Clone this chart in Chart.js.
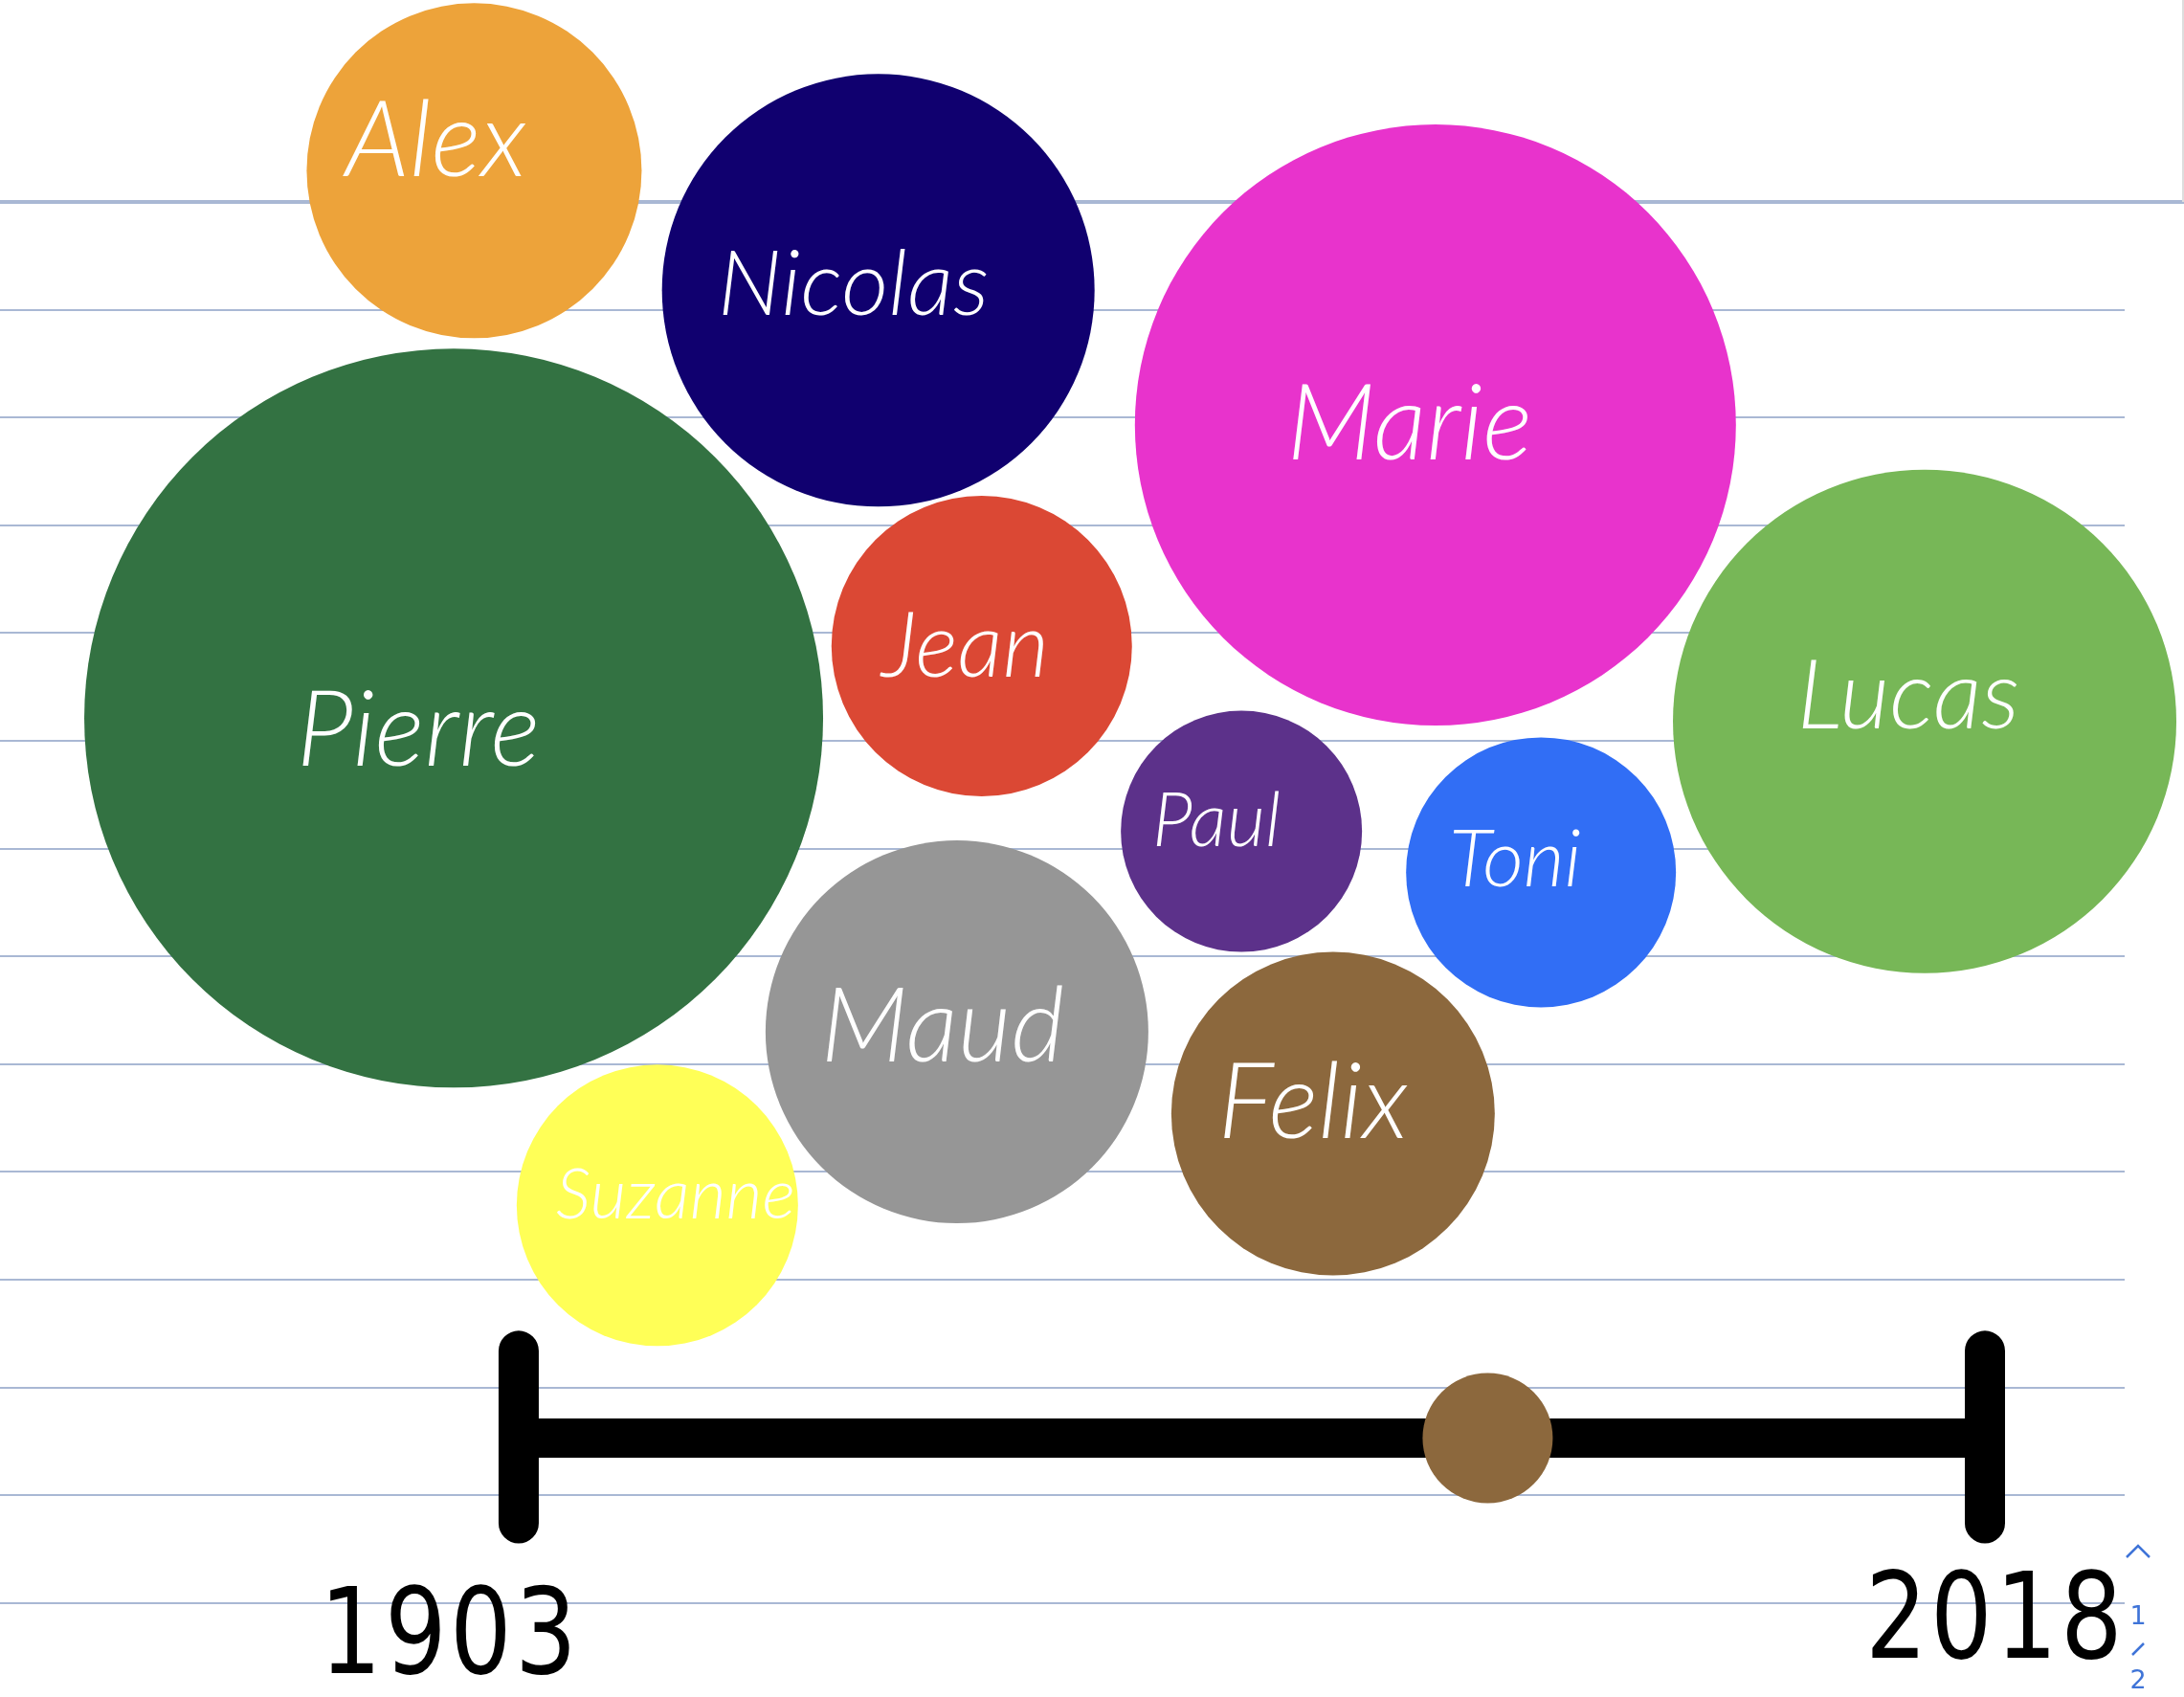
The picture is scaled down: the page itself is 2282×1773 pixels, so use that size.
<!DOCTYPE html>
<html>
<head>
<meta charset="utf-8">
<script src="https://cdn.jsdelivr.net/npm/chart.js@4"></script>
<style>
html,body{margin:0;padding:0;background:#fff;}
#wrap{width:2282px;height:1773px;position:relative;}
</style>
</head>
<body>
<div id="wrap"><canvas id="c"></canvas></div>
<script>
// ---- data (positions in "notebook line" units, radius in px as Chart.js bubble r) ----
const names   = ['Alex','Nicolas','Marie','Pierre','Jean','Lucas','Paul','Toni','Maud','Felix','Suzanne'];
const posX    = [4.40, 8.15, 13.32, 4.21, 9.11, 17.86, 11.52, 14.30, 8.88, 12.37, 6.10];
const posY    = [-0.29, 0.82, 2.07, 4.79, 4.12, 4.82, 5.84, 6.22, 7.70, 8.46, 9.31];
const radius  = [175, 226, 314, 386, 157, 263, 126, 141, 200, 169, 147];
const colors  = ['#EDA33A','#10006F','#E833CC','#337242','#DB4834','#77B757','#5C318A','#316EF5','#969696','#8C683D','#FFFF57'];
const years   = [1903, 2018];
const currentYear = 1979;
const timelineRow = 11.47;
const capRows = [10.66, 12.26];

// ---- style (not data) ----
const labelWidths = [201, 284, 284, 291, 175, 233, 134, 138, 255, 199, 250];
const labelShift  = [[-40,-30],[-26,-5],[-27,0],[-37,14],[-17,2],[-17,-26],[-26,-10],[-27,-12],[-15,-4],[-21,-10],[19,-10]];
const gridColor = '#A9B8D4';

const bubbleData = names.map((n, i) => ({x: posX[i], y: posY[i], r: radius[i]}));

const extrasPlugin = {
  id: 'extras',
  beforeDatasetsDraw(chart) {
    const ctx = chart.ctx, ya = chart.scales.y, ca = chart.chartArea;
    const y0 = ya.getPixelForValue(0);
    ctx.save();
    ctx.strokeStyle = gridColor;
    ctx.lineWidth = 4;
    ctx.beginPath();
    ctx.moveTo(ca.right, y0);
    ctx.lineTo(chart.width, y0);
    ctx.stroke();
    ctx.strokeStyle = '#DDDDDD';
    ctx.lineWidth = 2;
    ctx.beginPath();
    ctx.moveTo(chart.width - 1, 0);
    ctx.lineTo(chart.width - 1, y0);
    ctx.stroke();
    ctx.restore();
  },
  afterDatasetsDraw(chart) {
    const ctx = chart.ctx;
    const meta = chart.getDatasetMeta(0);
    ctx.save();
    ctx.fillStyle = '#FFFFFF';
    ctx.textAlign = 'center';
    ctx.textBaseline = 'middle';
    meta.data.forEach((el, i) => {
      const base = 100;
      ctx.font = 'italic 300 ' + base + 'px Lato, "Open Sans", sans-serif';
      const w = ctx.measureText(names[i]).width;
      const size = Math.min(base * labelWidths[i] / w, 110);
      ctx.font = 'italic 300 ' + size.toFixed(1) + 'px Lato, "Open Sans", sans-serif';
      ctx.fillText(names[i], el.x + labelShift[i][0], el.y + labelShift[i][1]);
    });
    ctx.restore();

    const ys = chart.scales.timeX, ya = chart.scales.y;
    const by = ya.getPixelForValue(timelineRow);
    ctx.save();
    ctx.fillStyle = '#000';
    ctx.textAlign = 'center';
    ctx.textBaseline = 'middle';
    ctx.font = '124px "DejaVu Sans", sans-serif';
    const offs = [[-72, 213], [11, 197]];
    years.forEach((yr, i) => {
      const px = ys.getPixelForValue(yr) + offs[i][0];
      const py = by + offs[i][1];
      ctx.save();
      ctx.translate(px, py);
      ctx.scale(0.82, 1);
      ctx.letterSpacing = '4px';
      ctx.fillText(String(yr), 0, 0);
      ctx.restore();
    });
    ctx.restore();

    const rx = chart.width - 48;
    ctx.save();
    ctx.strokeStyle = '#3F74D8';
    ctx.fillStyle = '#3F74D8';
    ctx.lineWidth = 2.5;
    ctx.beginPath();
    ctx.moveTo(rx - 12, 1627); ctx.lineTo(rx, 1615); ctx.lineTo(rx + 12, 1627);
    ctx.stroke();
    ctx.beginPath();
    ctx.moveTo(rx - 6, 1729); ctx.lineTo(rx + 6, 1717);
    ctx.stroke();
    ctx.font = '27px "DejaVu Sans", sans-serif';
    ctx.textAlign = 'center';
    ctx.textBaseline = 'middle';
    ctx.fillText('1', rx, 1690);
    ctx.fillText('2', rx, 1757);
    ctx.restore();
  }
};

new Chart(document.getElementById('c'), {
  data: {
    datasets: [
      {
        type: 'bubble',
        label: 'names',
        xAxisID: 'x',
        yAxisID: 'y',
        data: bubbleData,
        backgroundColor: colors,
        borderWidth: 0,
        hoverBorderWidth: 0,
        clip: false,
        order: 2
      },
      {
        type: 'bubble',
        label: 'current',
        xAxisID: 'timeX',
        yAxisID: 'y',
        data: [{x: currentYear, y: timelineRow, r: 68}],
        backgroundColor: colors[9],
        borderWidth: 0,
        clip: false,
        order: 1
      },
      {
        type: 'line',
        label: 'capStart',
        xAxisID: 'timeX',
        yAxisID: 'y',
        data: [{x: years[0], y: capRows[0]}, {x: years[0], y: capRows[1]}],
        borderColor: '#000',
        borderWidth: 42,
        borderCapStyle: 'round',
        pointRadius: 0,
        fill: false,
        clip: false,
        order: 3
      },
      {
        type: 'line',
        label: 'capEnd',
        xAxisID: 'timeX',
        yAxisID: 'y',
        data: [{x: years[1], y: capRows[0]}, {x: years[1], y: capRows[1]}],
        borderColor: '#000',
        borderWidth: 42,
        borderCapStyle: 'round',
        pointRadius: 0,
        fill: false,
        clip: false,
        order: 3
      },
      {
        type: 'line',
        label: 'bar',
        xAxisID: 'timeX',
        yAxisID: 'y',
        data: [{x: years[0], y: timelineRow}, {x: years[1], y: timelineRow}],
        borderColor: '#000',
        borderWidth: 41,
        borderCapStyle: 'butt',
        pointRadius: 0,
        fill: false,
        clip: false,
        order: 4
      }
    ]
  },
  options: {
    responsive: true,
    maintainAspectRatio: false,
    animation: false,
    events: [],
    layout: {autoPadding: false, padding: {left: 0, top: 0, bottom: 0, right: 62}},
    plugins: {legend: {display: false}, tooltip: {enabled: false}},
    scales: {
      x: {type: 'linear', axis: 'x', position: 'bottom', min: 0, max: 19.716, display: false},
      timeX: {type: 'linear', axis: 'x', position: 'bottom', min: 1862.32, max: 2028.96, display: false},
      y: {
        type: 'linear',
        axis: 'y',
        position: 'left',
        min: -1.874,
        max: 13.872,
        reverse: true,
        display: true,
        border: {display: false},
        ticks: {display: false, stepSize: 1, includeBounds: false},
        grid: {
          drawTicks: false,
          color: (c) => (c.tick && c.tick.value < 0 ? 'rgba(0,0,0,0)' : gridColor),
          lineWidth: (c) => (c.tick && c.tick.value === 0 ? 4 : 2)
        }
      }
    }
  },
  plugins: [extrasPlugin]
});
</script>
</body>
</html>
